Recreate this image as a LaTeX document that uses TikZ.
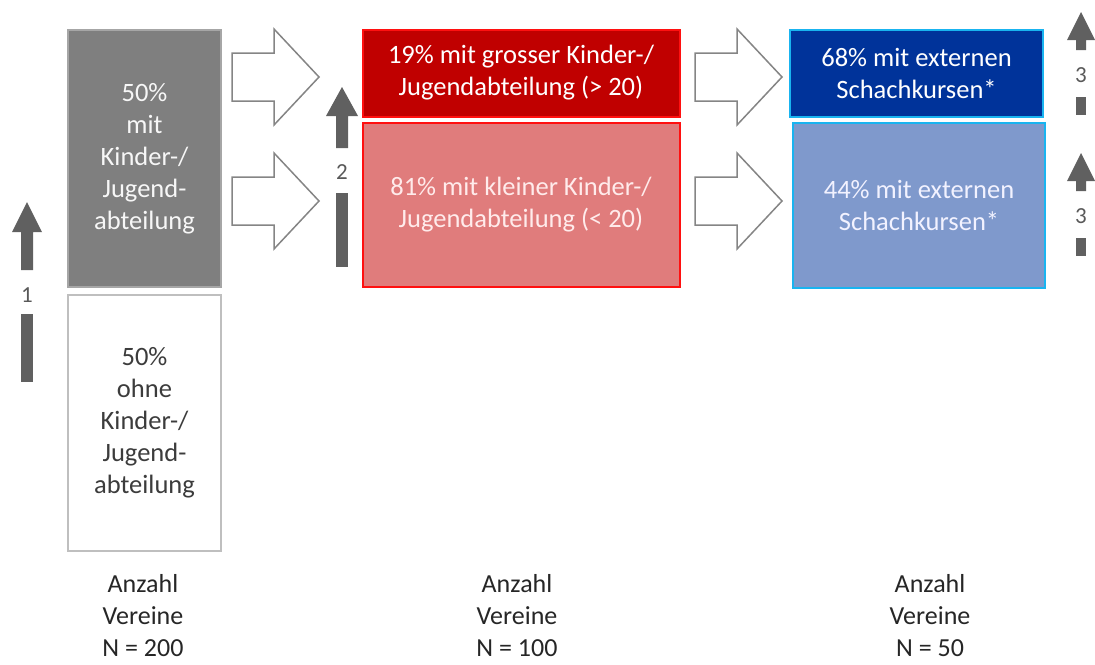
\documentclass[tikz,border=0pt]{standalone}
\usepackage{fontspec}
\setmainfont{Carlito}
\definecolor{greybox}{HTML}{7F7F7F}
\definecolor{greyedge}{HTML}{A6A6A6}
\definecolor{whiteedge}{HTML}{BFBFBF}
\definecolor{reddark}{HTML}{C00000}
\definecolor{redlight}{HTML}{E07C7C}
\definecolor{rededge}{HTML}{FF1010}
\definecolor{bluedark}{HTML}{00339A}
\definecolor{bluelight}{HTML}{7F99CC}
\definecolor{blueedge}{HTML}{19B4F0}
\definecolor{arrowgrey}{HTML}{606060}
\definecolor{outlinegrey}{HTML}{858585}
\definecolor{labelgrey}{HTML}{595959}
\definecolor{textdark}{HTML}{262626}
\tikzset{
  box/.style={rectangle, inner sep=0pt, line width=2pt, align=center,
    font=\fontsize{26.5}{32}\selectfont},
  numlabel/.style={inner sep=0pt, text=labelgrey, font=\fontsize{23}{26}\selectfont},
  uparrow/.style={fill=arrowgrey, draw=none},
  blockarrow/.style={draw=outlinegrey, line width=1.5pt, fill=white, line join=miter},
  footlabel/.style={align=center, inner sep=0pt, text=textdark,
    font=\fontsize{26}{32}\selectfont}
}
\begin{document}
\begin{tikzpicture}[x=1pt,y=-1pt]
\useasboundingbox (0,0) rectangle (1095,664);
% column 1 boxes
\node[box, fill=greybox, draw=greyedge, text=white!97!black,
  minimum width=153, minimum height=257] (g) at (144.5,158.5)
  {50\%\\mit\\Kinder-/\\Jugend-\\abteilung};
\node[box, fill=white, draw=whiteedge, text=textdark!90!white,
  minimum width=153, minimum height=256] (w) at (144.5,423)
  {50\%\\ohne\\Kinder-/\\Jugend-\\abteilung};
% column 2 boxes
\node[box, fill=reddark, draw=rededge, text=white,
  minimum width=317, minimum height=87] (r1) at (521,73)
  {19\% mit grosser Kinder-/\\Jugendabteilung (> 20)};
\node[box, fill=redlight, draw=rededge, text=red!8!white,
  minimum width=317, minimum height=164] (r2) at (521,205)
  {81\% mit kleiner Kinder-/\\Jugendabteilung (< 20)};
% column 3 boxes
\node[box, fill=bluedark, draw=blueedge, text=white,
  minimum width=253, minimum height=87] (b1) at (916.5,73.5)
  {68\% mit externen\\Schachkursen*};
\node[box, fill=bluelight, draw=blueedge, text=blue!5!white,
  minimum width=252, minimum height=165] (b2) at (919,205.5)
  {44\% mit externen\\Schachkursen*};
% block arrows column 1 -> 2 and column 2 -> 3
\foreach \dx in {0,463}{
  \foreach \dy in {0,124}{
    \draw[blockarrow] (232+\dx,53+\dy) -- (274+\dx,53+\dy) -- (274+\dx,29+\dy)
      -- (319+\dx,77+\dy) -- (274+\dx,125+\dy) -- (274+\dx,101+\dy)
      -- (232+\dx,101+\dy) -- cycle;
  }
}
% vertical arrow 1
\fill[uparrow] (21,270) -- (21,232) -- (12,232) -- (27,202) -- (42,232) -- (33,232) -- (33,270) -- cycle;
\node[numlabel] (n1) at (27,295) {1};
\fill[uparrow] (21,314) rectangle (33,382);
% vertical arrow 2
\fill[uparrow] (336,148) -- (336,116) -- (326,116) -- (342,87) -- (358,116) -- (348,116) -- (348,148) -- cycle;
\node[numlabel] (n2) at (342,172) {2};
\fill[uparrow] (336,193) rectangle (348,267);
% vertical arrows 3
\foreach \dy/\nm in {0/n3a,141/n3b}{
  \fill[uparrow] (1076,50+\dy) -- (1076,40+\dy) -- (1067,40+\dy) -- (1081,12+\dy)
    -- (1095,40+\dy) -- (1086,40+\dy) -- (1086,50+\dy) -- cycle;
  \node[numlabel] (\nm) at (1081,75+\dy) {3};
  \fill[uparrow] (1076,97+\dy) rectangle (1086,115+\dy);
}
% footer labels
\node[footlabel] (f1) at (143,616) {Anzahl\\Vereine\\N = 200};
\node[footlabel] (f2) at (517,616) {Anzahl\\Vereine\\N = 100};
\node[footlabel] (f3) at (930,616) {Anzahl\\Vereine\\N = 50};
\end{tikzpicture}
\end{document}
